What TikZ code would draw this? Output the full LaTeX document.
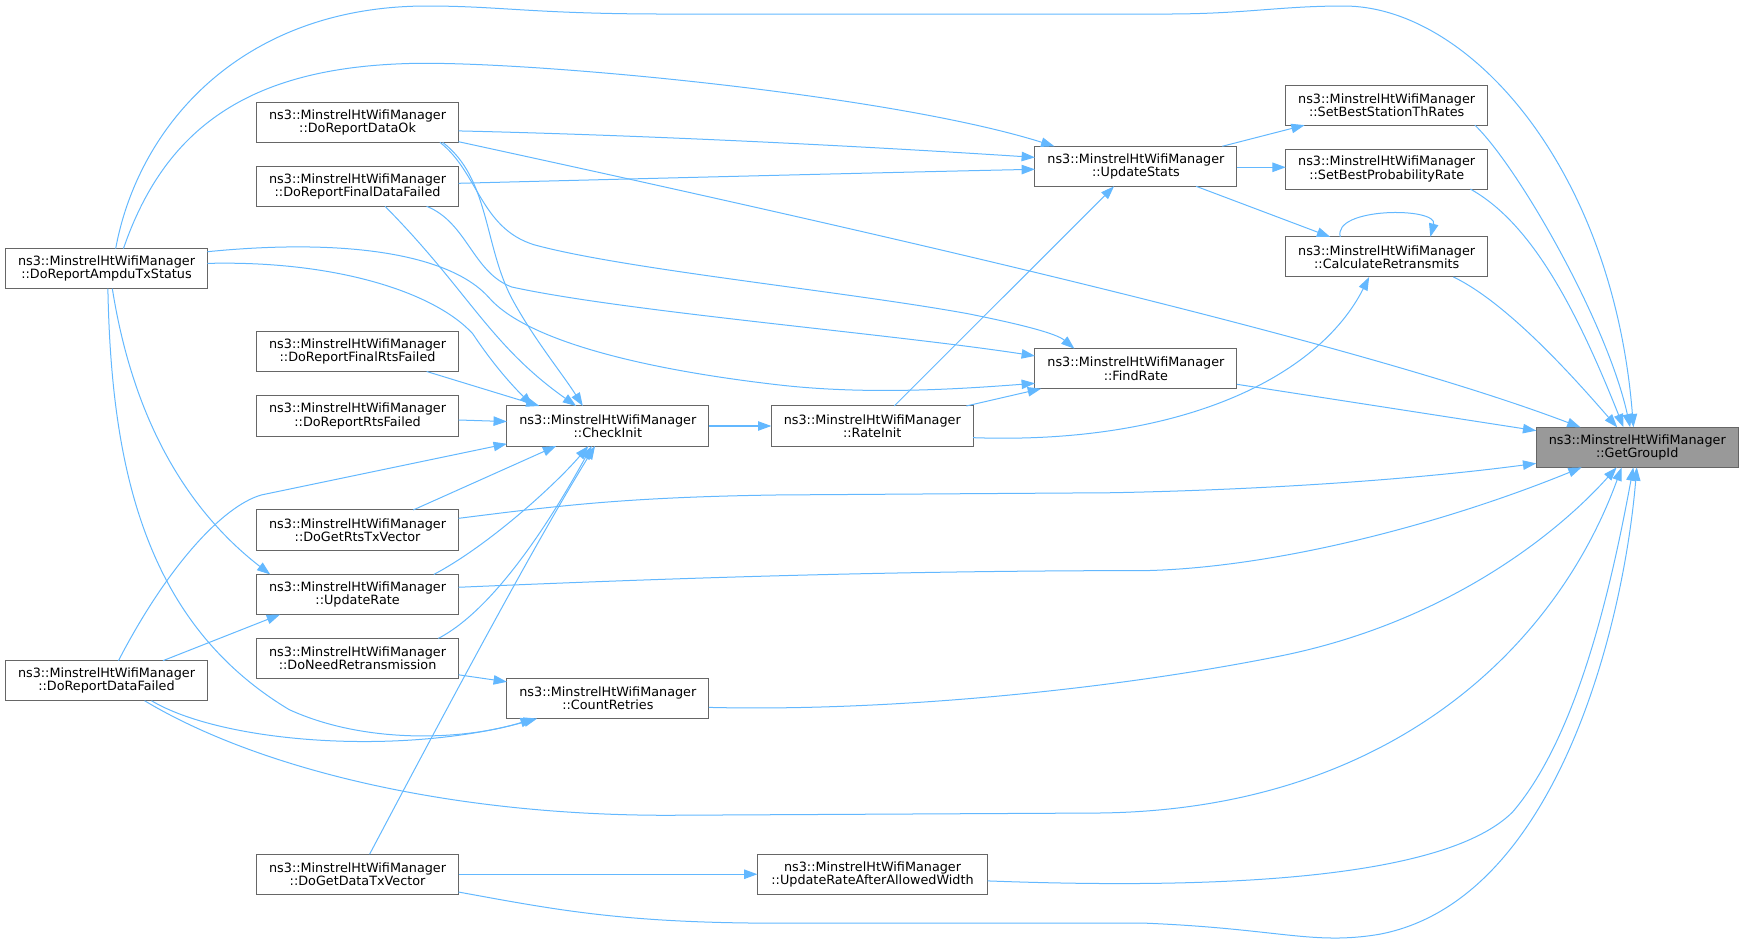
\documentclass[tikz,border=0pt]{standalone}
\usepackage{fontspec}
\newfontfamily\dxfont{DejaVu Sans}
\usetikzlibrary{arrows.meta,calc}
\definecolor{edgeblue}{HTML}{63B8FF}
\definecolor{boxgray}{HTML}{666666}
\definecolor{hlgray}{HTML}{999999}
\begin{document}
\begin{tikzpicture}[x=1pt,y=-1pt,
  fn/.style={draw=boxgray, line width=0.9pt, fill=white, minimum width=181.5pt, minimum height=36pt,
    inner sep=0pt, outer sep=0pt, align=center, font=\dxfont\fontsize{11.5}{12}\selectfont},
  hl/.style={fn, fill=hlgray},
  edge/.style={draw=edgeblue, line width=0.9pt, -{Triangle[length=12pt,width=8.5pt]}}]
\useasboundingbox (0,0) rectangle (1568,855);
% nodes
\node[fn] (amp) at (95.75,241.5) {ns3::MinstrelHtWifiManager\\::DoReportAmpduTxStatus};
\node[fn] (df) at (95.75,612) {ns3::MinstrelHtWifiManager\\::DoReportDataFailed};
\node[fn] (dok) at (321.5,110) {ns3::MinstrelHtWifiManager\\::DoReportDataOk};
\node[fn] (fdf) at (321.5,167.5) {ns3::MinstrelHtWifiManager\\::DoReportFinalDataFailed};
\node[fn] (frf) at (321.5,316) {ns3::MinstrelHtWifiManager\\::DoReportFinalRtsFailed};
\node[fn] (rtsf) at (321.5,374) {ns3::MinstrelHtWifiManager\\::DoReportRtsFailed};
\node[fn] (grts) at (321.5,476.5) {ns3::MinstrelHtWifiManager\\::DoGetRtsTxVector};
\node[fn] (ur) at (321.5,534.5) {ns3::MinstrelHtWifiManager\\::UpdateRate};
\node[fn] (nr) at (321.5,592) {ns3::MinstrelHtWifiManager\\::DoNeedRetransmission};
\node[fn] (gdt) at (321.5,786) {ns3::MinstrelHtWifiManager\\::DoGetDataTxVector};
\node[fn] (ci) at (546.5,383) {ns3::MinstrelHtWifiManager\\::CheckInit};
\node[fn] (cr) at (546.5,628) {ns3::MinstrelHtWifiManager\\::CountRetries};
\node[fn] (ri) at (784.25,383) {ns3::MinstrelHtWifiManager\\::RateInit};
\node[fn, minimum width=207pt] (uraaw) at (784.5,786) {ns3::MinstrelHtWifiManager\\::UpdateRateAfterAllowedWidth};
\node[fn] (us) at (1021.25,149.5) {ns3::MinstrelHtWifiManager\\::UpdateStats};
\node[fn] (fr) at (1021.25,331.5) {ns3::MinstrelHtWifiManager\\::FindRate};
\node[fn] (sbst) at (1246.75,94.5) {ns3::MinstrelHtWifiManager\\::SetBestStationThRates};
\node[fn] (sbpr) at (1246.75,152) {ns3::MinstrelHtWifiManager\\::SetBestProbabilityRate};
\node[fn] (crt) at (1246.75,231) {ns3::MinstrelHtWifiManager\\::CalculateRetransmits};
\node[hl] (ggi) at (1472,402.2) {ns3::MinstrelHtWifiManager\\::GetGroupId};
% edges
\draw[edge] ($(us.north west)+(168.5,0)$) -- ($(sbst.north west)+(17,36)$);
\draw[edge] ($(us.north west)+(181.5,18.9)$) -- ($(sbpr.north west)+(0,16.4)$);
\draw[edge] ($(us.north west)+(144.9,36)$) -- ($(crt.north west)+(40,0)$);
\draw[edge] ($(crt.north west)+(49,0)$) .. controls (1198,186) and (1293,186) .. ($(crt.north west)+(130,0)$);
\draw[edge] ($(ri.north west)+(181.5,28.5)$) .. controls (1060,400) and (1185,340) .. ($(crt.north west)+(75,36)$);
\draw[edge] ($(ri.north west)+(175.3,0)$) -- ($(fr.north west)+(5.5,36)$);
\draw[edge] ($(ri.north west)+(110.5,0)$) -- ($(us.north west)+(71.1,36)$);
\draw[edge] (ci.east) -- (ri.west);
\draw[edge] ($(fr.north west)+(181.5,32)$) -- ($(ggi.north west)+(0,3)$);
\draw[edge] ($(sbst.north west)+(170,36)$) .. controls (1365,150) and (1445,290) .. ($(ggi.north west)+(84.4,0)$);
\draw[edge] ($(sbpr.north west)+(166,36)$) .. controls (1372,198) and (1412,264) .. ($(ggi.north west)+(78.4,0)$);
\draw[edge] ($(crt.north west)+(150.7,36)$) .. controls (1356.7,273) and (1419,344) .. ($(ggi.north west)+(72.75,0)$);
\draw[edge] ($(dok.north west)+(181.5,35.4)$) .. controls (700,190) and (1200,300) .. ($(ggi.north west)+(39.75,0)$);
\draw[edge] ($(amp.north west)+(99,0)$) .. controls (125,110) and (220,5.4) .. (383.9,5.4)
  .. controls (450,5.4) and (480,12.6) .. (600,12.6) -- (1048,12.6)
  .. controls (1120,12.6) and (1150,5.4) .. (1208.3,5.4)
  .. controls (1320,5.4) and (1450,150) .. ($(ggi.north west)+(87.35,0)$);
\draw[edge] ($(amp.north west)+(106,0)$) .. controls (150,110) and (230,60) .. (371.5,57)
  .. controls (480,55) and (800,85) .. ($(us.north west)+(17.5,0)$);
\draw[edge] ($(dok.north west)+(181.5,25.7)$) .. controls (600,122) and (800,133) .. ($(us.north west)+(0,10)$);
\draw[edge] ($(fdf.north west)+(181.5,15.3)$) .. controls (600,160) and (800,155) .. ($(us.north west)+(0,20.7)$);
\draw[edge] ($(dok.north west)+(164.85,36)$) .. controls (430,155) and (432,205) .. (480,220)
  .. controls (560,242) and (760,262) .. (870,282)
  .. controls (920,292) and (950,300) .. ($(fr.north west)+(35.5,0)$);
\draw[edge] ($(fdf.north west)+(152.85,36)$) .. controls (420,200) and (425,245) .. (460,258)
  .. controls (560,280) and (800,300) .. ($(fr.north west)+(0,6.5)$);
\draw[edge] ($(amp.north west)+(181.5,2.8)$) .. controls (310,214) and (405,228) .. (440,268)
  .. controls (470,302) and (560,330) .. (701.4,346.2)
  .. controls (780,355) and (860,350) .. ($(fr.north west)+(0,31.1)$);
\draw[edge] ($(amp.north west)+(181.5,13.3)$) .. controls (300,234) and (390,262) .. (425,300)
  .. controls (445,330) and (462,348) .. ($(ci.north west)+(23.25,0)$);
\draw[edge] ($(dok.north west)+(167.25,36)$) .. controls (440,160) and (435,220) .. (460,268)
  .. controls (480,305) and (505,335) .. ($(ci.north west)+(68.25,0)$);
\draw[edge] ($(fdf.north west)+(115.45,36)$) .. controls (420,260) and (440,310) .. ($(ci.north west)+(62.25,0)$);
\draw[edge] ($(frf.north west)+(152.85,36)$) -- ($(ci.north west)+(29.25,0)$);
\draw[edge] ($(rtsf.north west)+(181.5,21.6)$) -- ($(ci.north west)+(0,14)$);
\draw[edge] ($(df.north west)+(101.5,0)$) .. controls (150,510) and (200,455) .. (235,445) -- ($(ci.north west)+(0,34)$);
\draw[edge] ($(grts.north west)+(140.75,0)$) -- ($(ci.north west)+(44.25,36)$);
\draw[edge] ($(ur.north west)+(159.25,0)$) .. controls (440,490) and (500,435) .. ($(ci.north west)+(73.25,36)$);
\draw[edge] ($(nr.north west)+(163.25,0)$) .. controls (450,545) and (505,450) .. ($(ci.north west)+(76.25,36)$);
\draw[edge] ($(gdt.north west)+(101.55,0)$) .. controls (400,640) and (480,490) .. ($(ci.north west)+(79.25,36)$);
\draw[edge] ($(nr.north west)+(181.5,32.7)$) -- ($(cr.north west)+(0,3)$);
\draw[edge] ($(amp.north west)+(92,36)$) .. controls (100,420) and (130,560) .. (260,638)
  .. controls (330,670) and (420,665) .. ($(cr.north west)+(24.25,36)$);
\draw[edge] ($(df.north west)+(131.2,36)$) .. controls (200,668) and (360,680) .. ($(cr.north west)+(27.25,36)$);
\draw[edge] ($(df.north west)+(141.5,0)$) -- ($(ur.north west)+(21.05,36)$);
\draw[edge] ($(amp.north west)+(96,36)$) .. controls (120,380) and (170,460) .. ($(ur.north west)+(12.25,0)$);
\draw[edge] ($(cr.north west)+(181.5,26)$) .. controls (800,640) and (1000,620) .. (1150,590)
  .. controls (1300,560) and (1400,480) .. ($(ggi.north west)+(72.25,36)$);
\draw[edge] ($(df.north west)+(125,36)$) .. controls (230,690) and (400,733) .. (600,733) -- (980,731)
  .. controls (1250,731) and (1400,580) .. ($(ggi.north west)+(76.75,36)$);
\draw[edge] ($(uraaw.north west)+(207,24)$) .. controls (1100,800) and (1300,790) .. (1360,730)
  .. controls (1420,660) and (1450,520) .. ($(ggi.north west)+(87.25,36)$);
\draw[edge] ($(gdt.north west)+(181.5,34)$) .. controls (500,818) and (560,830) .. (700,830) -- (1030,830)
  .. controls (1150,835) and (1180,850) .. (1240,840)
  .. controls (1400,810) and (1460,560) .. ($(ggi.north west)+(90.35,36)$);
\draw[edge] (gdt.east) -- (uraaw.west);
\draw[edge] ($(ur.north west)+(181.5,11.5)$) .. controls (600,520) and (800,513) .. (1031,513)
  .. controls (1150,510) and (1300,470) .. ($(ggi.north west)+(40.75,36)$);
\draw[edge] ($(grts.north west)+(181.5,7.5)$) .. controls (500,455) and (560,447) .. (700,445) -- (1000,443)
  .. controls (1150,440) and (1280,430) .. ($(ggi.north west)+(0,32.4)$);
\end{tikzpicture}
\end{document}
